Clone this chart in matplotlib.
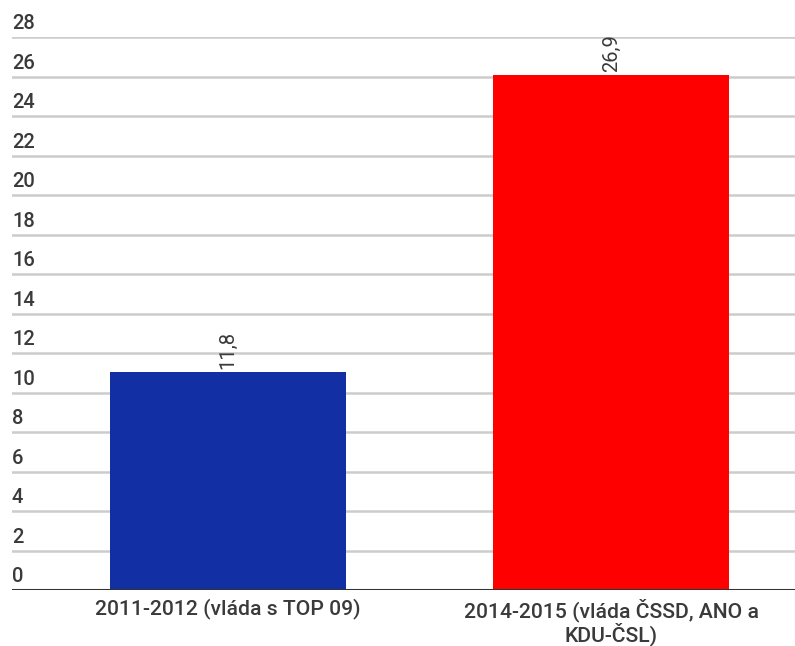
import matplotlib.pyplot as plt
import numpy as np

plt.rcParams['font.family'] = ['Roboto', 'DejaVu Sans']

categories = ["2011-2012 (vláda s TOP 09)", "2014-2015 (vláda ČSSD, ANO a\nKDU-ČSL)"]
heights = [11.05, 26.1]
value_labels = ["11,8", "26,9"]
colors = ["#1230a4", "#fe0000"]
yticks = list(range(0, 29, 2))

W, H = 795, 646
fig = plt.figure(figsize=(W / 100, H / 100), dpi=100)
# axes in pixel coords: left 12, right 795, bottom 590, top 37
ax = fig.add_axes([12 / W, 1 - 590 / H, (795 - 12) / W, (590 - 37) / H])

x = np.arange(len(categories))
ax.bar(x, heights, width=0.616, color=colors, zorder=3)
ax.set_xlim(-0.564, 1.48)
ax.set_ylim(0, 28)

for t in yticks:
    if t == 0:
        ax.axhline(t, color="#333333", lw=2.2, zorder=4)
    else:
        ax.axhline(t, color="#cccccc", lw=1.8, zorder=1)
    ax.text(0.0, t + 0.2, str(t), transform=ax.get_yaxis_transform(),
            ha="left", va="bottom", fontsize=14.5, color="#3a3a3a",
            fontweight="medium")

for xi, h, lab in zip(x, heights, value_labels):
    ax.text(xi, h + 0.15, lab, rotation=90, ha="center", va="bottom",
            fontsize=14.5, color="#3a3a3a", zorder=5)

for xi, c in zip(x, categories):
    ax.text(xi, -0.4, c, ha="center", va="top", fontsize=15.2,
            color="#3a3a3a", linespacing=1.05, fontweight="medium")

for s in ax.spines.values():
    s.set_visible(False)
ax.set_xticks([])
ax.set_yticks([])

fig.savefig("out.png", dpi=100, facecolor="white")
